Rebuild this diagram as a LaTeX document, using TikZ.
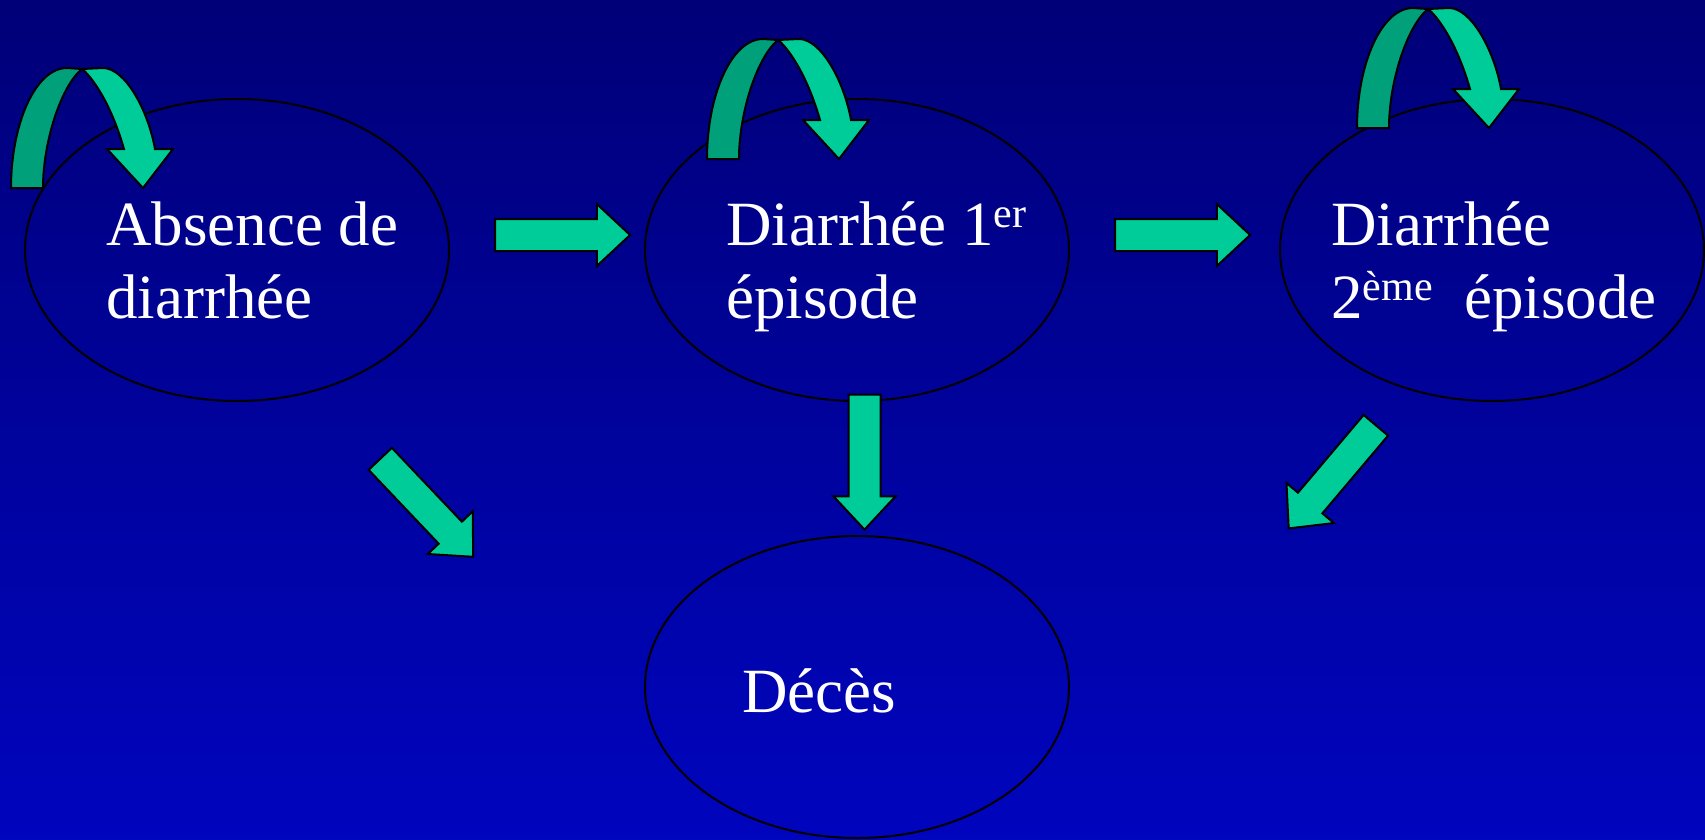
\documentclass[tikz,border=0pt]{standalone}
\usepackage{fontspec}
\setmainfont{Liberation Serif}
\usetikzlibrary{shapes.geometric,shapes.arrows}

\definecolor{bgtop}{RGB}{0,0,120}
\definecolor{bgbot}{RGB}{0,5,190}
\definecolor{mint}{RGB}{0,204,153}
\definecolor{mintdark}{RGB}{0,160,122}

\newcommand{\exposant}[1]{\raisebox{18pt}{\fontsize{42}{42}\selectfont #1}}

\tikzset{
  state/.style={ellipse, draw=black, line width=2pt, minimum width=424pt, minimum height=302pt, inner sep=0pt},
  lbl/.style={text=white, font=\fontsize{63}{73}\selectfont, align=left, anchor=base west, inner sep=0pt},
  blockarrow/.style={single arrow, draw=black, line width=2pt, fill=mint, minimum height=135pt, minimum width=60pt,
    single arrow head extend=15pt, single arrow tip angle=86, inner xsep=0pt, inner ysep=15pt},
  uturn/.pic={
    \draw[line width=2pt, fill=mint] (71,-119) -- (92,-120) .. controls (114,-120) and (137,-78) .. (144,-39)
      -- (162,-39) -- (132,0) -- (96,-39) -- (113,-39) .. controls (99,-88) and (79,-113) .. (71,-119) -- cycle;
    \draw[line width=2pt, fill=mintdark] (0,0) .. controls (0,-63) and (24,-120) .. (56,-120) -- (71,-119)
      .. controls (51,-103) and (32,-48) .. (32,0) -- cycle;
  }
}

\begin{document}
\begin{tikzpicture}[x=1pt, y=-1pt]
\useasboundingbox (0,0) rectangle (1705,839);
\shade[top color=bgtop, bottom color=bgbot] (0,0) rectangle (1705,839);

% the four states
\node[state] (absence) at (237,250) {};
\node[state] (diar1) at (857,250) {};
\node[state] (diar2) at (1492,250) {};
\node[state] (deces) at (857,687) {};

\node[lbl] (tabsence) at (106,318) {Absence de\\diarrhée};
\node[lbl] (tdiar1) at (726,318) {Diarrhée 1\exposant{er}\\épisode};
\node[lbl] (tdiar2) at (1331,318) {Diarrhée\\2\exposant{ème}\ \ épisode};
\node[lbl] (tdeces) at (742,712) {Décès};

% transitions
\node[blockarrow] (arr1) at (554,235) {};
\node[blockarrow] (arr2) at (1174,235) {};
\node[blockarrow, rotate=-90] (arrdown) at (864.5,453.5) {};
\node[blockarrow, rotate=-46.5] (arrdiag1) at (420.8,501.6) {};
\node[blockarrow, rotate=-130.2] (arrdiag2) at (1337.8,470.3) {};

% staying in the same state
\pic at (11,188) {uturn};
\pic at (707,159) {uturn};
\pic at (1357,128) {uturn};
\end{tikzpicture}
\end{document}
